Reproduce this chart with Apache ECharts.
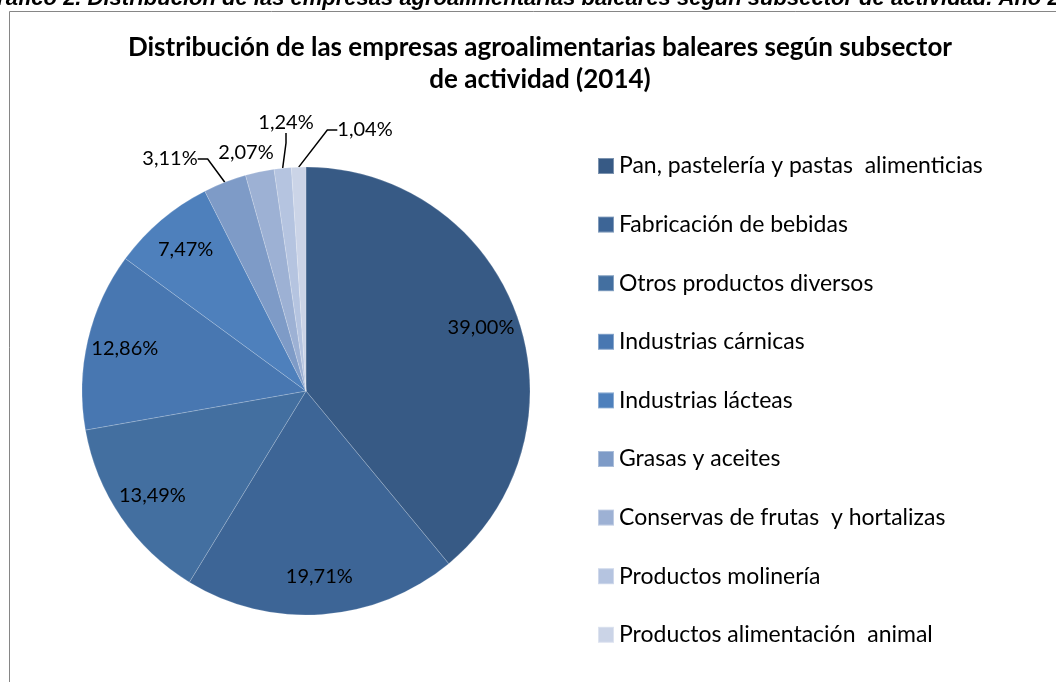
<!DOCTYPE html>
<html>
<head>
<meta charset="utf-8">
<script src="https://cdn.jsdelivr.net/npm/echarts@6/dist/echarts.min.js"></script>
<style>
  html, body { margin: 0; padding: 0; background: #fff; }
  #chart { width: 1056px; height: 682px; }
</style>
</head>
<body>
<div id="chart"></div>
<script>
// subsectores y porcentajes (2014)
var subsectores = [
  'Pan, pastelería y pastas  alimenticias',
  'Fabricación de bebidas',
  'Otros productos diversos',
  'Industrias cárnicas',
  'Industrias lácteas',
  'Grasas y aceites',
  'Conservas de frutas  y hortalizas',
  'Productos molinería',
  'Productos alimentación  animal'
]
var porcentajes = [39.00, 19.71, 13.49, 12.86, 7.47, 3.11, 2.07, 1.24, 1.04]
var colores = ['#375a85', '#3d6596', '#436fa0', '#4877b1', '#4e80bc', '#7e9bc7', '#9db1d4', '#b5c4e0', '#cbd4e7']

var chartDom = document.getElementById('chart')
var myChart = echarts.init(chartDom)

var fmt = function (p) {
  return p.value.toFixed(2).replace('.', ',') + '%'
}

// donde van las etiquetas de las porciones pequeñas (como en el original)
var etiqFuera = {
  5: [170, 159],
  6: [246, 153],
  7: [286, 123],
  8: [365, 130]
}

var datos = []
var datosEtiq = []
for (let i = 0; i < subsectores.length; i++) {
  let dentro = porcentajes[i] > 5
  datos.push({
    name: subsectores[i],
    value: porcentajes[i],
    itemStyle: { color: colores[i] },
    label: { show: !dentro },
    labelLine: { show: !dentro && i !== 6 }
  })
  datosEtiq.push({
    name: subsectores[i],
    value: porcentajes[i],
    label: { show: dentro },
    labelLine: { show: false }
  })
}

var option = {
  animation: false,
  graphic: [
    {
      // encabezado del documento, cortado arriba como en la captura
      type: 'text',
      x: -20,
      y: -0.6,
      style: {
        text: 'Gráfico 2. Distribución de las empresas agroalimentarias baleares según subsector de actividad. Año 2014',
        font: 'italic bold 22px "Liberation Sans"',
        fill: '#000',
        verticalAlign: 'middle'
      }
    },
    {
      type: 'rect',
      shape: { x: 9.5, y: 11.5, width: 1100, height: 700 },
      style: { fill: 'none', stroke: '#868686', lineWidth: 1 }
    }
  ],
  title: {
    text: 'Distribución de las empresas agroalimentarias baleares según subsector\nde actividad (2014)',
    left: 535,
    top: 27,
    textAlign: 'center',
    textStyle: {
      fontFamily: 'Lato',
      fontSize: 26,
      fontWeight: 'bold',
      color: '#000',
      lineHeight: 32
    }
  },
  legend: {
    orient: 'vertical',
    left: 597,
    top: 154.5,
    height: 540,
    padding: 0,
    icon: 'rect',
    itemWidth: 16,
    itemHeight: 16,
    itemGap: 35.6,
    selectedMode: false,
    data: subsectores,
    textStyle: {
      fontFamily: 'Lato',
      fontSize: 23,
      color: '#000'
    }
  },
  series: [
    {
      type: 'pie',
      center: [306, 391],
      radius: 224,
      startAngle: 90,
      clockwise: true,
      avoidLabelOverlap: false,
      itemStyle: { borderColor: 'rgba(255,255,255,0.35)', borderWidth: 0.5 },
      label: {
        position: 'outside',
        formatter: fmt,
        fontFamily: 'Lato',
        fontSize: 20,
        color: '#000'
      },
      labelLine: {
        length: 14,
        length2: 10,
        lineStyle: { color: '#000', width: 1.5 }
      },
      labelLayout: function (p) {
        var pos = etiqFuera[p.dataIndex]
        if (!pos) return {}
        return { x: pos[0], y: pos[1], align: 'center', verticalAlign: 'middle' }
      },
      emphasis: { disabled: true },
      data: datos
    },
    {
      // capa transparente solo para colocar las etiquetas interiores
      type: 'pie',
      silent: true,
      center: [306, 391],
      radius: [142, 224],
      startAngle: 90,
      clockwise: true,
      itemStyle: { color: 'rgba(0,0,0,0)' },
      label: {
        position: 'inside',
        formatter: fmt,
        fontFamily: 'Lato',
        fontSize: 20,
        color: '#000'
      },
      emphasis: { disabled: true },
      data: datosEtiq
    }
  ]
}
option && myChart.setOption(option)
</script>
</body>
</html>
